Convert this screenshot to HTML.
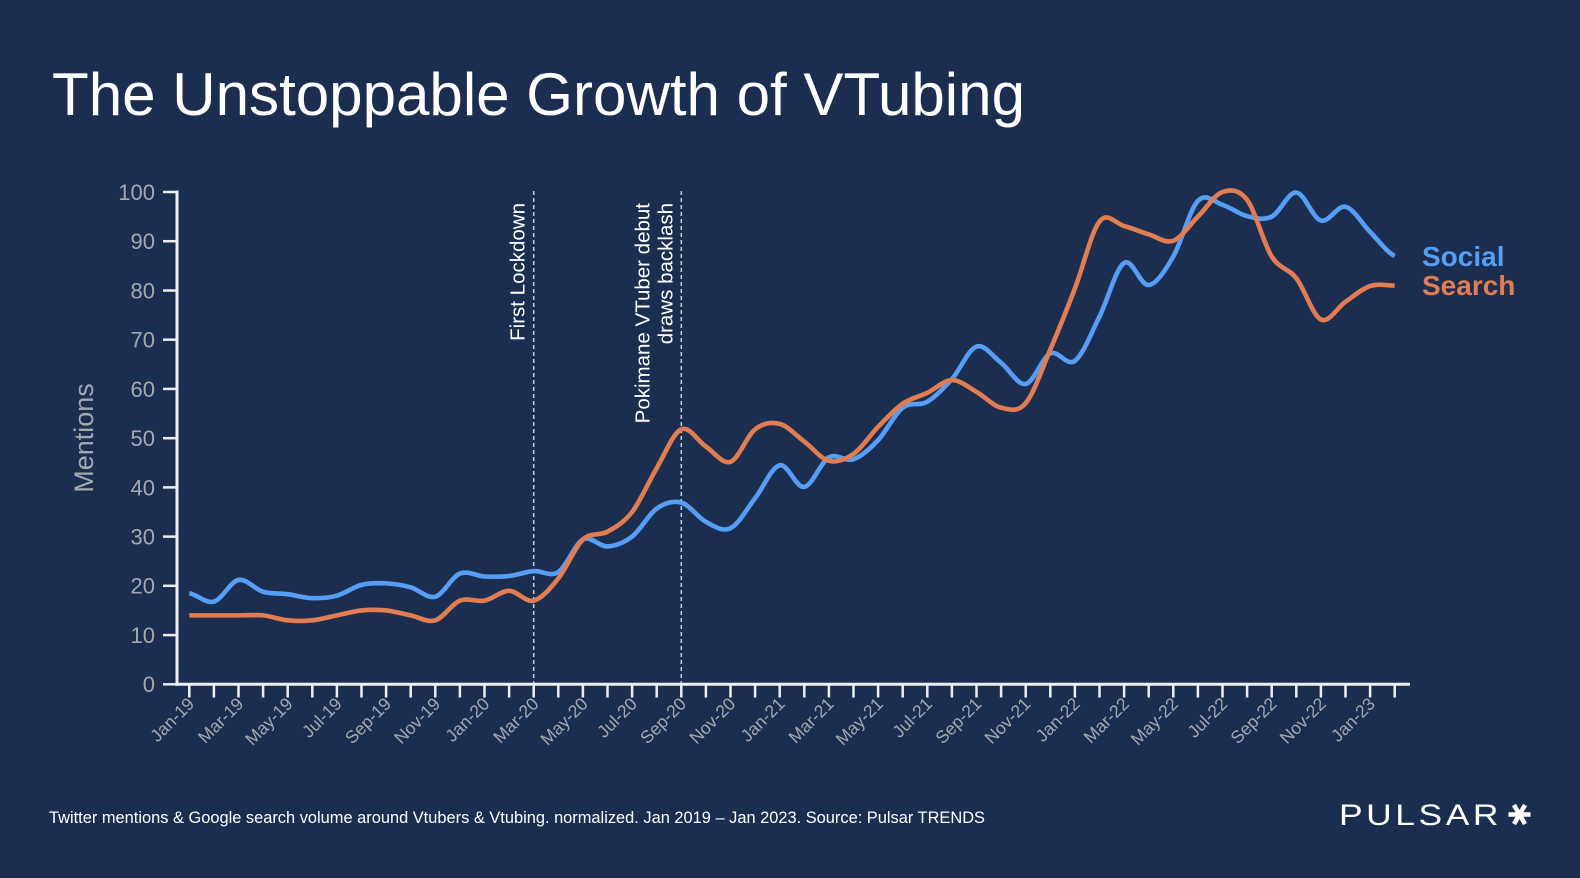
<!DOCTYPE html>
<html>
<head>
<meta charset="utf-8">
<style>
  html, body { margin:0; padding:0; background:#1c2e50; }
  body { width:1580px; height:878px; overflow:hidden; }
  svg { display:block; font-family:"Liberation Sans", "DejaVu Sans", sans-serif; }
</style>
</head>
<body>
<svg width="1580" height="878" viewBox="0 0 1580 878" xmlns="http://www.w3.org/2000/svg">
  <rect x="0" y="0" width="1580" height="878" fill="#1c2e50"/>

  <!-- Title -->
  <text x="52" y="115" font-size="60" fill="#ffffff" textLength="973" lengthAdjust="spacingAndGlyphs">The Unstoppable Growth of VTubing</text>

  <!-- Y axis label -->
  <text transform="translate(93,438) rotate(-90)" text-anchor="middle" font-size="27" fill="#a5a8af">Mentions</text>

  <!-- Y tick labels -->
  <g font-size="22" fill="#a5a8af" text-anchor="end">
    <text x="155" y="192.0" dy="0.36em">100</text>
    <text x="155" y="241.2" dy="0.36em">90</text>
    <text x="155" y="290.5" dy="0.36em">80</text>
    <text x="155" y="339.7" dy="0.36em">70</text>
    <text x="155" y="388.9" dy="0.36em">60</text>
    <text x="155" y="438.2" dy="0.36em">50</text>
    <text x="155" y="487.4" dy="0.36em">40</text>
    <text x="155" y="536.6" dy="0.36em">30</text>
    <text x="155" y="585.8" dy="0.36em">20</text>
    <text x="155" y="635.1" dy="0.36em">10</text>
    <text x="155" y="684.3" dy="0.36em">0</text>
  </g>

  <!-- Y ticks -->
  <g stroke="#eeeef0" stroke-width="2.5">
    <line x1="163" y1="192.0" x2="177" y2="192.0"/>
    <line x1="163" y1="241.2" x2="177" y2="241.2"/>
    <line x1="163" y1="290.5" x2="177" y2="290.5"/>
    <line x1="163" y1="339.7" x2="177" y2="339.7"/>
    <line x1="163" y1="388.9" x2="177" y2="388.9"/>
    <line x1="163" y1="438.2" x2="177" y2="438.2"/>
    <line x1="163" y1="487.4" x2="177" y2="487.4"/>
    <line x1="163" y1="536.6" x2="177" y2="536.6"/>
    <line x1="163" y1="585.8" x2="177" y2="585.8"/>
    <line x1="163" y1="635.1" x2="177" y2="635.1"/>
    <line x1="163" y1="684.3" x2="177" y2="684.3"/>
  </g>

  <!-- X ticks (50 months) -->
  <g stroke="#eeeef0" stroke-width="2.5">
    <line x1="189.3" y1="684" x2="189.3" y2="697.5"/>
    <line x1="213.9" y1="684" x2="213.9" y2="697.5"/>
    <line x1="238.5" y1="684" x2="238.5" y2="697.5"/>
    <line x1="263.1" y1="684" x2="263.1" y2="697.5"/>
    <line x1="287.7" y1="684" x2="287.7" y2="697.5"/>
    <line x1="312.3" y1="684" x2="312.3" y2="697.5"/>
    <line x1="336.9" y1="684" x2="336.9" y2="697.5"/>
    <line x1="361.5" y1="684" x2="361.5" y2="697.5"/>
    <line x1="386.1" y1="684" x2="386.1" y2="697.5"/>
    <line x1="410.7" y1="684" x2="410.7" y2="697.5"/>
    <line x1="435.3" y1="684" x2="435.3" y2="697.5"/>
    <line x1="459.9" y1="684" x2="459.9" y2="697.5"/>
    <line x1="484.5" y1="684" x2="484.5" y2="697.5"/>
    <line x1="509.1" y1="684" x2="509.1" y2="697.5"/>
    <line x1="533.7" y1="684" x2="533.7" y2="697.5"/>
    <line x1="558.3" y1="684" x2="558.3" y2="697.5"/>
    <line x1="582.9" y1="684" x2="582.9" y2="697.5"/>
    <line x1="607.5" y1="684" x2="607.5" y2="697.5"/>
    <line x1="632.1" y1="684" x2="632.1" y2="697.5"/>
    <line x1="656.7" y1="684" x2="656.7" y2="697.5"/>
    <line x1="681.3" y1="684" x2="681.3" y2="697.5"/>
    <line x1="705.9" y1="684" x2="705.9" y2="697.5"/>
    <line x1="730.5" y1="684" x2="730.5" y2="697.5"/>
    <line x1="755.1" y1="684" x2="755.1" y2="697.5"/>
    <line x1="779.7" y1="684" x2="779.7" y2="697.5"/>
    <line x1="804.3" y1="684" x2="804.3" y2="697.5"/>
    <line x1="828.9" y1="684" x2="828.9" y2="697.5"/>
    <line x1="853.5" y1="684" x2="853.5" y2="697.5"/>
    <line x1="878.1" y1="684" x2="878.1" y2="697.5"/>
    <line x1="902.7" y1="684" x2="902.7" y2="697.5"/>
    <line x1="927.3" y1="684" x2="927.3" y2="697.5"/>
    <line x1="951.9" y1="684" x2="951.9" y2="697.5"/>
    <line x1="976.5" y1="684" x2="976.5" y2="697.5"/>
    <line x1="1001.1" y1="684" x2="1001.1" y2="697.5"/>
    <line x1="1025.7" y1="684" x2="1025.7" y2="697.5"/>
    <line x1="1050.3" y1="684" x2="1050.3" y2="697.5"/>
    <line x1="1074.9" y1="684" x2="1074.9" y2="697.5"/>
    <line x1="1099.5" y1="684" x2="1099.5" y2="697.5"/>
    <line x1="1124.1" y1="684" x2="1124.1" y2="697.5"/>
    <line x1="1148.7" y1="684" x2="1148.7" y2="697.5"/>
    <line x1="1173.3" y1="684" x2="1173.3" y2="697.5"/>
    <line x1="1197.9" y1="684" x2="1197.9" y2="697.5"/>
    <line x1="1222.5" y1="684" x2="1222.5" y2="697.5"/>
    <line x1="1247.1" y1="684" x2="1247.1" y2="697.5"/>
    <line x1="1271.7" y1="684" x2="1271.7" y2="697.5"/>
    <line x1="1296.3" y1="684" x2="1296.3" y2="697.5"/>
    <line x1="1320.9" y1="684" x2="1320.9" y2="697.5"/>
    <line x1="1345.5" y1="684" x2="1345.5" y2="697.5"/>
    <line x1="1370.1" y1="684" x2="1370.1" y2="697.5"/>
    <line x1="1394.7" y1="684" x2="1394.7" y2="697.5"/>
  </g>

  <!-- Axis lines -->
  <line x1="177" y1="190.5" x2="177" y2="685.8" stroke="#eeeef0" stroke-width="3"/>
  <line x1="175.5" y1="684.3" x2="1410" y2="684.3" stroke="#eeeef0" stroke-width="3"/>

  <!-- X tick labels -->
  <g font-size="17.5" fill="#a5a8af" text-anchor="end">
    <text transform="translate(195.3,705) rotate(-45)">Jan-19</text>
    <text transform="translate(244.5,705) rotate(-45)">Mar-19</text>
    <text transform="translate(293.7,705) rotate(-45)">May-19</text>
    <text transform="translate(342.9,705) rotate(-45)">Jul-19</text>
    <text transform="translate(392.1,705) rotate(-45)">Sep-19</text>
    <text transform="translate(441.3,705) rotate(-45)">Nov-19</text>
    <text transform="translate(490.5,705) rotate(-45)">Jan-20</text>
    <text transform="translate(539.7,705) rotate(-45)">Mar-20</text>
    <text transform="translate(588.9,705) rotate(-45)">May-20</text>
    <text transform="translate(638.1,705) rotate(-45)">Jul-20</text>
    <text transform="translate(687.3,705) rotate(-45)">Sep-20</text>
    <text transform="translate(736.5,705) rotate(-45)">Nov-20</text>
    <text transform="translate(785.7,705) rotate(-45)">Jan-21</text>
    <text transform="translate(834.9,705) rotate(-45)">Mar-21</text>
    <text transform="translate(884.1,705) rotate(-45)">May-21</text>
    <text transform="translate(933.3,705) rotate(-45)">Jul-21</text>
    <text transform="translate(982.5,705) rotate(-45)">Sep-21</text>
    <text transform="translate(1031.7,705) rotate(-45)">Nov-21</text>
    <text transform="translate(1080.9,705) rotate(-45)">Jan-22</text>
    <text transform="translate(1130.1,705) rotate(-45)">Mar-22</text>
    <text transform="translate(1179.3,705) rotate(-45)">May-22</text>
    <text transform="translate(1228.5,705) rotate(-45)">Jul-22</text>
    <text transform="translate(1277.7,705) rotate(-45)">Sep-22</text>
    <text transform="translate(1326.9,705) rotate(-45)">Nov-22</text>
    <text transform="translate(1376.1,705) rotate(-45)">Jan-23</text>
  </g>

  <!-- Annotation lines -->
  <g stroke="#c8ccd4" stroke-width="1.5" stroke-dasharray="4 3">
    <line x1="533.7" y1="191" x2="533.7" y2="683"/>
    <line x1="681.3" y1="191" x2="681.3" y2="683"/>
  </g>
  <g font-size="20.5" fill="#ffffff" text-anchor="end">
    <text transform="translate(524.3,203) rotate(-90)">First Lockdown</text>
    <text transform="translate(649.3,203) rotate(-90)">Pokimane VTuber debut</text>
    <text transform="translate(672.7,203) rotate(-90)">draws backlash</text>
  </g>

  <!-- Series -->
  <g transform="translate(189.3,684.3) scale(24.6,-4.923)" fill="none" stroke-linejoin="round" stroke-linecap="butt">
    <path vector-effect="non-scaling-stroke" stroke="#569ef5" stroke-width="4.6"
      d="M0,18.5 C0.333,18.22 0.667,16.35 1,16.8 S1.667,20.87 2,21.2 S2.667,19.28 3,18.8 S3.667,18.52 4,18.3 S4.667,17.55 5,17.5 S5.667,17.55 6,18 S6.667,19.78 7,20.2 S7.667,20.58 8,20.5 S8.667,20.15 9,19.7 S9.667,17.33 10,17.8 S10.667,21.82 11,22.5 S11.667,21.98 12,21.9 S12.667,21.82 13,22 S13.667,22.87 14,23 S14.667,21.73 15,22.8 S15.667,28.53 16,29.4 S16.667,27.9 17,28 S17.667,28.72 18,30 S18.667,34.55 19,35.7 S19.667,37.35 20,36.9 S20.667,33.87 21,33 S21.667,30.9 22,31.7 S22.667,35.67 23,37.8 S23.667,44.12 24,44.5 S24.667,39.83 25,40.1 S25.667,45.17 26,46.1 S26.667,45.12 27,45.7 S27.667,47.85 28,49.6 S28.667,54.9 29,56.2 S29.667,56.43 30,57.4 S30.667,60.13 31,62 S31.667,68.05 32,68.6 S32.667,66.57 33,65.3 S33.667,60.68 34,61 S34.667,66.42 35,67.2 S35.667,64.45 36,65.7 S36.667,71.38 37,74.7 S37.667,84.53 38,85.6 S38.667,80.88 39,81.1 S39.667,84.05 40,86.9 S40.667,96.45 41,98.2 S41.667,97.92 42,97.4 S42.667,95.5 43,95.1 S43.667,94.2 44,95 S44.667,100.03 45,99.9 S45.667,94.68 46,94.2 S46.667,97.38 47,97 S47.667,93.57 48,91.9 S48.667,87.82 49,87"/>
    <path vector-effect="non-scaling-stroke" stroke="#e27d52" stroke-width="4.6"
      d="M0,14 C0.333,14 0.667,14 1,14 S1.667,14 2,14 S2.667,14.17 3,14 S3.667,13.17 4,13 S4.667,12.83 5,13 S5.667,13.67 6,14 S6.667,14.83 7,15 S7.667,15.17 8,15 S8.667,14.33 9,14 S9.667,12.5 10,13 S10.667,16.33 11,17 S11.667,16.67 12,17 S12.667,19 13,19 S13.667,16.58 14,17 S14.667,19.43 15,21.5 S15.667,27.82 16,29.4 S16.667,30.07 17,31 S17.667,32.85 18,35 S18.667,41.1 19,43.9 S19.667,51.07 20,51.8 S20.667,49.4 21,48.3 S21.667,44.62 22,45.2 S22.667,50.52 23,51.8 S23.667,53.32 24,52.9 S24.667,50.55 25,49.3 S25.667,45.82 26,45.4 S26.667,45.65 27,46.8 S27.667,50.6 28,52.3 S28.667,55.85 29,57 S29.667,58.4 30,59.2 S30.667,61.77 31,61.8 S31.667,60.33 32,59.4 S32.667,56.58 33,56.2 S33.667,55.13 34,57.1 S34.667,64.12 35,68 S35.667,76.07 36,80.4 S36.667,91.88 37,94 S37.667,93.53 38,93.1 S38.667,91.9 39,91.4 S39.667,89.5 40,90.1 S40.667,93.35 41,95 S41.667,99.43 42,100 S42.667,100.58 43,98.4 S43.667,89.55 44,86.9 S44.667,84.63 45,82.5 S45.667,74.9 46,74.1 S46.667,76.57 47,77.7 S47.667,80.35 48,80.9 S48.667,80.98 49,81"/>
  </g>

  <!-- Legend -->
  <text x="1422" y="266" font-size="28" font-weight="bold" fill="#569ef5">Social</text>
  <text x="1422" y="295" font-size="28" font-weight="bold" fill="#e27d52">Search</text>

  <!-- Footer -->
  <text x="49" y="823" font-size="16.5" fill="#ffffff" textLength="936" lengthAdjust="spacingAndGlyphs">Twitter mentions &amp; Google search volume around Vtubers &amp; Vtubing. normalized. Jan 2019 – Jan 2023. Source: Pulsar TRENDS</text>

  <!-- Logo -->
  <text x="1339" y="825" font-size="30" fill="#ffffff" letter-spacing="3" textLength="163" lengthAdjust="spacingAndGlyphs">PULSAR</text>
  <g stroke="#ffffff" stroke-width="4.5" stroke-linecap="butt">
    <line x1="1508.5" y1="814.5" x2="1530.5" y2="814.5"/>
    <line x1="1514" y1="805" x2="1525" y2="824"/>
    <line x1="1525" y1="805" x2="1514" y2="824"/>
  </g>
</svg>
</body>
</html>
